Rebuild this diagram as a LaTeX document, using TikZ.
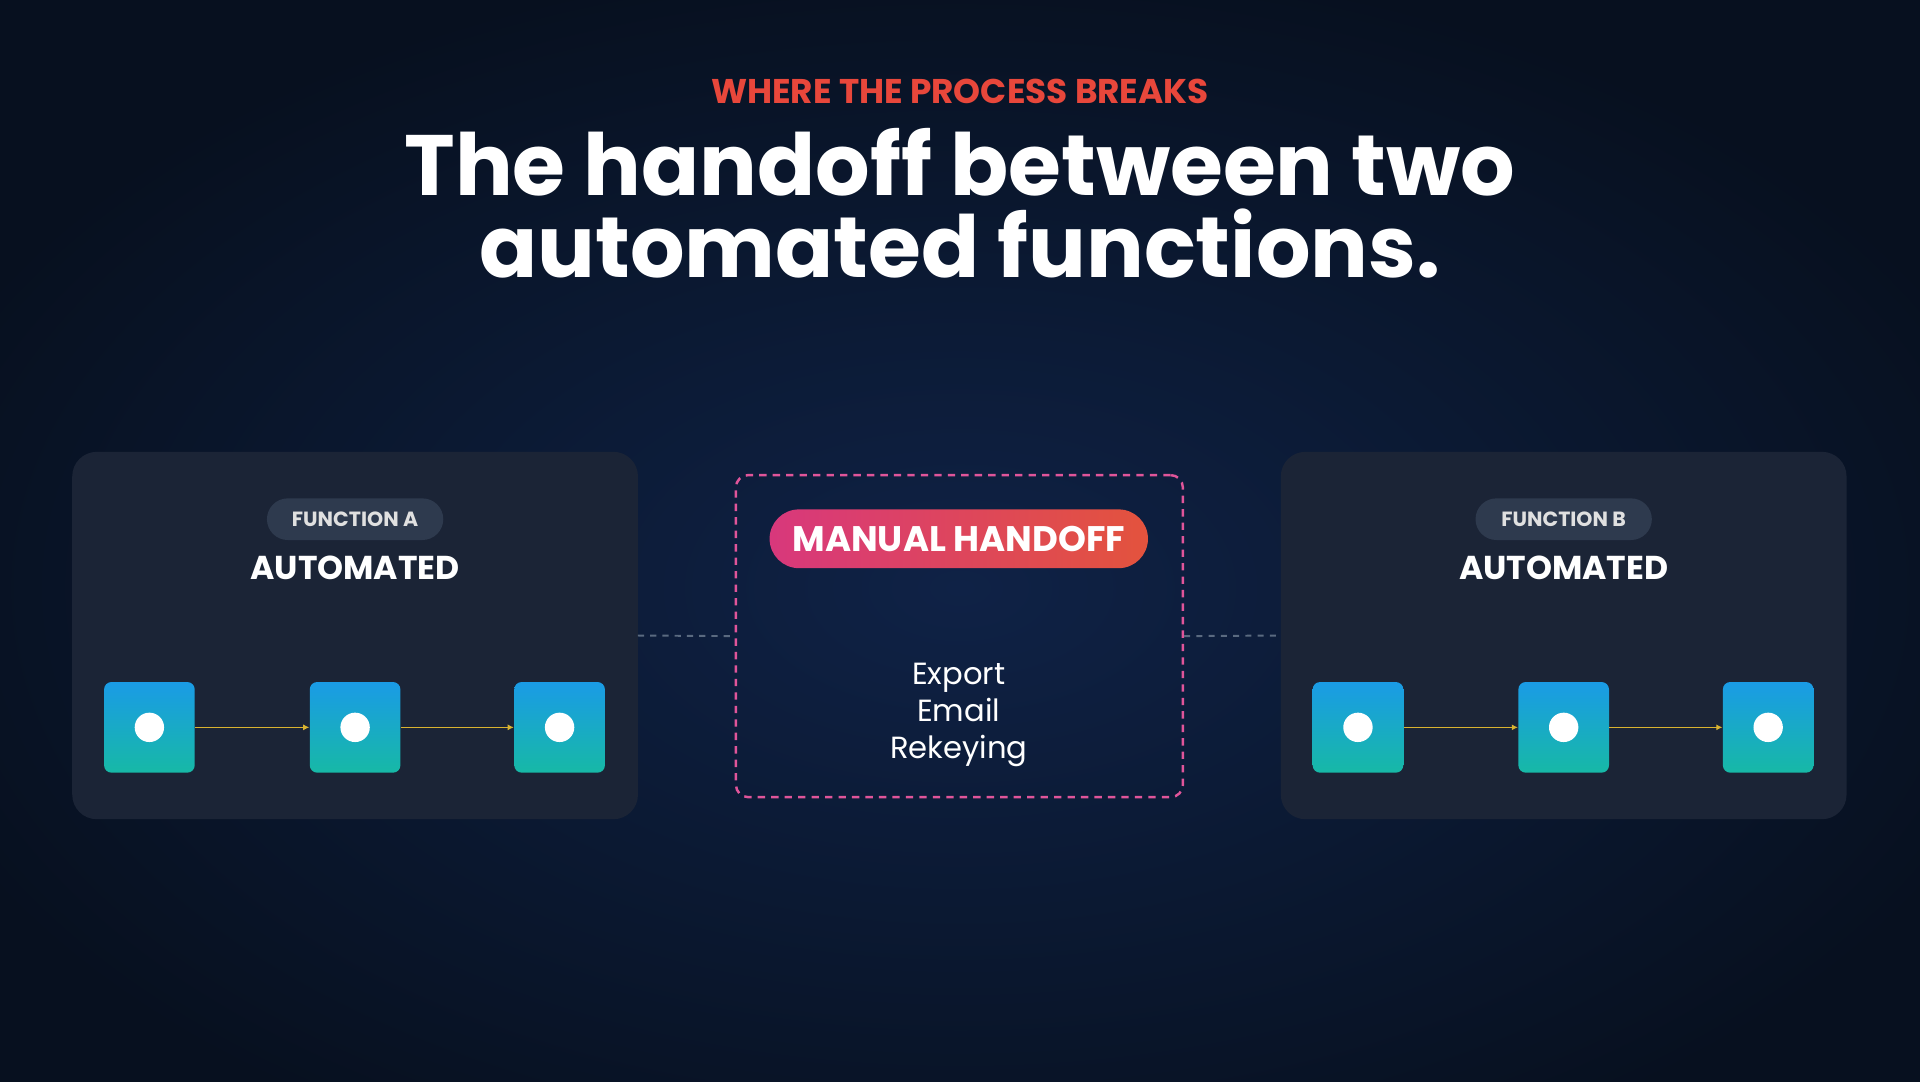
\documentclass[tikz,border=0pt]{standalone}
\usepackage{fontspec}
\setmainfont{Poppins}
\usetikzlibrary{positioning,calc,shadings,arrows.meta}
\definecolor{bgdark}{HTML}{07101F}
\definecolor{bgmid}{HTML}{0F2246}
\definecolor{panel}{HTML}{1B2436}
\definecolor{pillgray}{HTML}{2E3A4E}
\definecolor{accentred}{HTML}{E8473B}
\definecolor{dashpink}{HTML}{E0559A}
\definecolor{linkgray}{HTML}{5A6A80}
\definecolor{flow}{HTML}{D9B330}
\definecolor{boxtop}{HTML}{1A9BE6}
\definecolor{boxbot}{HTML}{17B9A6}
\definecolor{handl}{HTML}{D8387C}
\definecolor{handr}{HTML}{E3533D}
\tikzset{
  panel/.style={fill=panel, rounded corners=10pt},
  tag/.style={fill=pillgray, rounded corners=8.5pt, minimum width=72pt, minimum height=17pt,
    text=white!88!black, font=\fontsize{8.4}{9}\selectfont\bfseries, inner sep=0pt},
  state/.style={text=white, font=\fontsize{13.5}{15}\selectfont\bfseries},
  stepbox/.style={top color=boxtop, bottom color=boxbot, rounded corners=3pt,
    minimum size=37pt, inner sep=0pt},
  dot/.style={circle, fill=white, minimum size=12pt, inner sep=0pt},
  flowline/.style={draw=flow, line width=0.5pt, -{Latex[length=2.5pt,width=2.5pt]}},
  link/.style={draw=linkgray, line width=0.8pt, dash pattern=on 2.5pt off 2.5pt}
}
\begin{document}
\begin{tikzpicture}[x=0.5pt,y=-0.5pt]
  \useasboundingbox (0,0) rectangle (1568,883);
  \clip (0,0) rectangle (1568,883);
  \fill[bgdark] (-10,-10) rectangle (1580,895);
  \shade[inner color=bgmid, outer color=bgdark] (784,480) ellipse (900 and 520);
  % heading
  \node (kicker) at (784,75) {\textcolor{accentred}{\fontsize{14}{15}\selectfont\bfseries WHERE THE PROCESS BREAKS}};
  \node[align=center, text=white, font=\fontsize{35}{33.5}\selectfont\bfseries] (title) at (784,166)
    {The handoff between two\\automated functions.};
  % panels
  \fill[panel] (59,369) rectangle (521,669);
  \fill[panel] (1046,369) rectangle (1508,669);
  \coordinate (pa) at (521,519);
  \coordinate (pb) at (1046,519);
  \node[tag] (tagA) at (290,424) {FUNCTION A};
  \node[state] (autoA) at (290,464) {AUTOMATED};
  \node[tag] (tagB) at (1277,424) {FUNCTION B};
  \node[state] (autoB) at (1277,464) {AUTOMATED};
  % steps
  \foreach \n/\x in {a1/122,a2/290,a3/457,b1/1109,b2/1277,b3/1444}{
    \node[stepbox] (\n) at (\x,594) {};
    \node[dot] at (\n) {};
  }
  \draw[flowline] (a1) -- (a2);
  \draw[flowline] (a2) -- (a3);
  \draw[flowline] (b1) -- (b2);
  \draw[flowline] (b2) -- (b3);
  % manual handoff
  \node[draw=dashpink, line width=1pt, dash pattern=on 3pt off 2.5pt, rounded corners=5pt,
    minimum width=182.5pt, minimum height=131.5pt] (gap) at (783.5,519.5) {};
  \draw[link] (pa) -- (gap.west);
  \draw[link] (gap.east) -- (pb);
  \node[left color=handl, right color=handr, rounded corners=12pt, minimum width=154.5pt,
    minimum height=24pt, text=white, font=\fontsize{14.5}{15}\selectfont\bfseries] (manual) at (783,440) {MANUAL HANDOFF};
  \node[align=center, text=white, font=\fontsize{12.5}{15}\selectfont] (tasks) at (783,584)
    {Export\\Email\\Rekeying};
\end{tikzpicture}
\end{document}
